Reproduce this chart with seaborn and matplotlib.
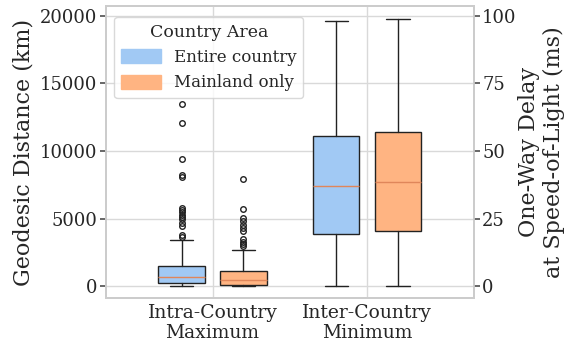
import matplotlib
matplotlib.use("Agg")
import matplotlib.pyplot as plt
from matplotlib.patches import Patch
import seaborn as sns

# Summary statistics of geodesic distances (km)
categories = ["Intra-Country\nMaximum", "Inter-Country\nMinimum"]
areas = ["Entire country", "Mainland only"]

# per area: [intra, inter]
whislo = {"Entire country": [0, 0], "Mainland only": [0, 0]}
q1 = {"Entire country": [200, 3880], "Mainland only": [50, 4050]}
median = {"Entire country": [670, 7380], "Mainland only": [420, 7680]}
q3 = {"Entire country": [1500, 11110], "Mainland only": [1140, 11380]}
whishi = {"Entire country": [3390, 19630], "Mainland only": [2670, 19750]}
fliers = {
    "Entire country": [
        [3650, 3750, 4470, 4690, 4940, 5140, 5280, 5460, 5630, 5800,
         8050, 8220, 9430, 12100, 13460],
        [],
    ],
    "Mainland only": [
        [2990, 3140, 3280, 3460, 4050, 4300, 4540, 4790, 5060, 5680, 7930],
        [],
    ],
}

# Propagation speed in fibre (km per ms)
km_per_ms = 200.0

sns.set_theme(style="whitegrid")
plt.rcParams["font.family"] = ["DejaVu Serif"]
palette = sns.color_palette("pastel")
colors = {"Entire country": palette[0], "Mainland only": palette[1]}

fig, ax = plt.subplots(figsize=(5.66, 3.47), dpi=100)
fig.subplots_adjust(left=0.187, right=0.837, top=0.983, bottom=0.141)

offsets = {"Entire country": -0.2, "Mainland only": 0.2}
for area in areas:
    stats = []
    for i in range(len(categories)):
        stats.append(dict(
            whislo=whislo[area][i], q1=q1[area][i], med=median[area][i],
            q3=q3[area][i], whishi=whishi[area][i], fliers=fliers[area][i],
        ))
    positions = [i + offsets[area] for i in range(len(categories))]
    ax.bxp(
        stats, positions=positions, widths=0.3, patch_artist=True,
        manage_ticks=False,
        boxprops=dict(facecolor=colors[area], edgecolor="#222222", linewidth=1),
        whiskerprops=dict(color="#222222", linewidth=1),
        capprops=dict(color="#222222", linewidth=1),
        medianprops=dict(color="#e0865a", linewidth=1),
        flierprops=dict(marker="o", markersize=4, markerfacecolor="none",
                        markeredgecolor="#222222", markeredgewidth=1),
    )

ax.set_xticks(range(len(categories)))
ax.set_xticklabels(categories, fontsize=13.5)
ax.set_xlim(-0.69, 1.69)
ax.set_ylim(-890, 20740)
ax.set_yticks([0, 5000, 10000, 15000, 20000])
ax.tick_params(axis="y", labelsize=13, left=True, length=4, color="#555555", pad=2)
ax.tick_params(axis="x", length=0, pad=4)
ax.set_ylabel("Geodesic Distance (km)", fontsize=16)
for s in ax.spines.values():
    s.set_color("#cccccc")
ax.grid(True, color="#d9d9d9", linewidth=1)

ax2 = ax.twinx()
lo, hi = ax.get_ylim()
ax2.set_ylim(lo / km_per_ms, hi / km_per_ms)
ax2.set_yticks([0, 25, 50, 75, 100])
ax2.grid(False)
ax2.tick_params(axis="y", labelsize=13, right=True, length=4, color="#555555", pad=2)
ax2.set_ylabel("One-Way Delay\nat Speed-of-Light (ms)", fontsize=16, labelpad=1)
for s in ax2.spines.values():
    s.set_color("#cccccc")

handles = [Patch(facecolor=colors[a], edgecolor=colors[a], label=a) for a in areas]
leg = ax.legend(handles=handles, title="Country Area", loc="upper left",
                fontsize=12, title_fontsize=12.5, bbox_to_anchor=(0.0, 0.99),
                handlelength=2.4, handleheight=0.9, frameon=True)
leg.get_frame().set_edgecolor("#d0d0d0")

fig.savefig("out.png", dpi=100)
